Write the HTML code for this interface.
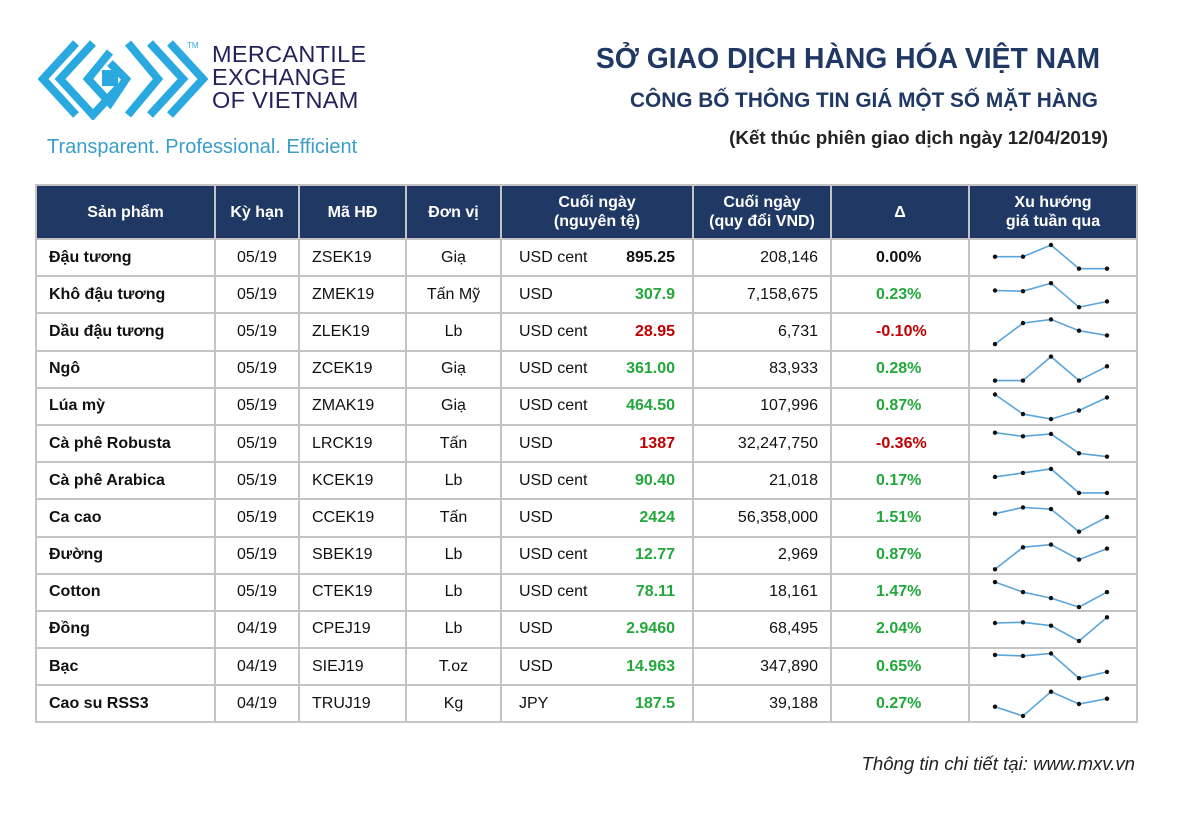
<!DOCTYPE html>
<html><head><meta charset="utf-8">
<style>
body{margin:0;width:1200px;height:820px;background:#fff;font-family:"Liberation Sans",sans-serif;position:relative;overflow:hidden}
.abs{position:absolute}
table{position:absolute;left:35px;top:184px;border-collapse:collapse;border:2px solid #bdbdbd}
td,th{border:2px solid #c4c4c4;padding:0;font-size:16px;height:35.2px;color:#111}
th{background:#1f3864;color:#fff;font-weight:bold;height:52px;font-size:16px;line-height:19px}
td.l{text-align:left;padding-left:12px;font-weight:bold}
td.c{text-align:center}
td.r{text-align:right;padding-right:12px}
.g{color:#22a83a;font-weight:bold}.rd{color:#c00000;font-weight:bold}.b{font-weight:bold}
</style></head><body>
<svg class="abs" style="left:38px;top:38px" width="170" height="82" viewBox="0 0 170 82">
<g fill="none" stroke="#2aa9e0" stroke-width="8">
<polyline points="38,5 5,41 38,77"/>
<polyline points="55,5 22,41 55,77 80,50"/>
<polyline points="72,14 50,41 72,65 88,41 72,25"/>
<polyline points="90,5 120,41 90,77"/>
<polyline points="112,5 145,41 112,77"/>
<polyline points="132,5 165,41 132,77"/>
<rect x="68" y="36" width="8" height="8"/>
</g></svg>
<div class="abs" style="left:187px;top:41px;font-size:8px;color:#2aa9e0">TM</div>
<div class="abs" style="left:212px;top:43px;font-family:'Liberation Sans',sans-serif;font-size:23.5px;line-height:23px;color:#23235a;letter-spacing:0.3px">MERCANTILE<br>EXCHANGE<br>OF VIETNAM</div>
<div class="abs" style="left:47px;top:136px;font-size:20px;color:#3a9ec9">Transparent. Professional. Efficient</div>
<div class="abs" style="left:548px;width:600px;top:42px;text-align:center;font-size:28.3px;font-weight:bold;color:#1f3864">SỞ GIAO DỊCH HÀNG HÓA VIỆT NAM</div>
<div class="abs" style="left:564px;width:600px;top:89px;text-align:center;font-size:20.8px;font-weight:bold;color:#1f3864">CÔNG BỐ THÔNG TIN GIÁ MỘT SỐ MẶT HÀNG</div>
<div class="abs" style="left:600px;width:508px;top:127px;text-align:right;font-size:18.8px;font-weight:bold;color:#222">(Kết thúc phiên giao dịch ngày 12/04/2019)</div>
<table>
<thead><tr>
<th style="width:177px">Sản phẩm</th><th style="width:82px">Kỳ hạn</th><th style="width:105px">Mã HĐ</th><th style="width:93px">Đơn vị</th><th style="width:190px">Cuối ngày<br>(nguyên tệ)</th><th style="width:136px">Cuối ngày<br>(quy đổi VND)</th><th style="width:136px">Δ</th><th style="width:166px">Xu hướng<br>giá tuần qua</th>
</tr></thead><tbody id="tb"></tbody></table>
<svg class="abs" id="spark" style="left:0;top:0" width="1200" height="820"></svg>
<div class="abs" style="right:65px;top:753px;font-size:18.6px;font-style:italic;color:#222">Thông tin chi tiết tại: www.mxv.vn</div>
<script>
const products=["Đậu tương","Khô đậu tương","Dầu đậu tương","Ngô","Lúa mỳ","Cà phê Robusta","Cà phê Arabica","Ca cao","Đường","Cotton","Đồng","Bạc","Cao su RSS3"];
const terms=["05/19","05/19","05/19","05/19","05/19","05/19","05/19","05/19","05/19","05/19","04/19","04/19","04/19"];
const codes=["ZSEK19","ZMEK19","ZLEK19","ZCEK19","ZMAK19","LRCK19","KCEK19","CCEK19","SBEK19","CTEK19","CPEJ19","SIEJ19","TRUJ19"];
const units=["Giạ","Tấn Mỹ","Lb","Giạ","Giạ","Tấn","Lb","Tấn","Lb","Lb","Lb","T.oz","Kg"];
const currencies=["USD cent","USD","USD cent","USD cent","USD cent","USD","USD cent","USD","USD cent","USD cent","USD","USD","JPY"];
const prices=["895.25","307.9","28.95","361.00","464.50","1387","90.40","2424","12.77","78.11","2.9460","14.963","187.5"];
const vnd=["208,146","7,158,675","6,731","83,933","107,996","32,247,750","21,018","56,358,000","2,969","18,161","68,495","347,890","39,188"];
const changes=[0.00,0.23,-0.10,0.28,0.87,-0.36,0.17,1.51,0.87,1.47,2.04,0.65,0.27];
const trends=[
[18.3,18.3,30,6.3,6.3],[21.7,21,29,5,10.7],[5.3,26.3,30,18.7,14],[6,6,30,6,20.3],[29.3,9.7,4.7,13.3,26.3],
[28.3,24.7,27,7.7,4.3],[21.3,25.3,29.3,5.3,5.3],[21.7,28,26.3,3.7,18.3],[3.3,25.3,28,13,24],[27.7,17.7,11.7,2.7,17.7],
[24,24.7,21.3,6,29.7],[29.3,28.3,30.7,6,12.3],[14.7,5.4,29.7,17.4,22.7]];
const tb=document.getElementById('tb');
products.forEach((p,i)=>{
 const tr=document.createElement('tr');
 
 
 const ch=changes[i];
 const cls=i===0?'b':(ch<0?'rd':'g');
 tr.innerHTML=`<td class="l">${p}</td><td class="c">${terms[i]}</td><td class="l" style="font-weight:normal">${codes[i]}</td><td class="c">${units[i]}</td>`+
 `<td style="padding:0 17px 0 17px"><span style="float:left">${currencies[i]}</span><span class="${cls}" style="float:right">${prices[i]}</span></td>`+
 `<td class="r">${vnd[i]}</td><td class="l ${ch===0?'b':(ch<0?'rd':'g')}" style="padding-left:44px">${ch.toFixed(2)}%</td><td></td>`;
 tb.appendChild(tr);
});
const svg=document.getElementById('spark');
const NS='http://www.w3.org/2000/svg';
const xs=i=>995+28*i;
const rowTop=i=>240+37.2*i;
const yv=(r,v)=>rowTop(r)+35-v;
trends.forEach((t,r)=>{
 const pl=document.createElementNS(NS,'polyline');
 pl.setAttribute('points',t.map((v,k)=>xs(k)+','+yv(r,v)).join(' '));
 pl.setAttribute('fill','none');pl.setAttribute('stroke','#5aa5dc');pl.setAttribute('stroke-width','1.6');
 
 
 svg.appendChild(pl);
 t.forEach((v,k)=>{
  const c=document.createElementNS(NS,'circle');
  c.setAttribute('cx',xs(k));c.setAttribute('cy',yv(r,v));c.setAttribute('r','2.2');c.setAttribute('fill','#111');
  
  
  svg.appendChild(c);
 });
});
</script>
</body></html>
